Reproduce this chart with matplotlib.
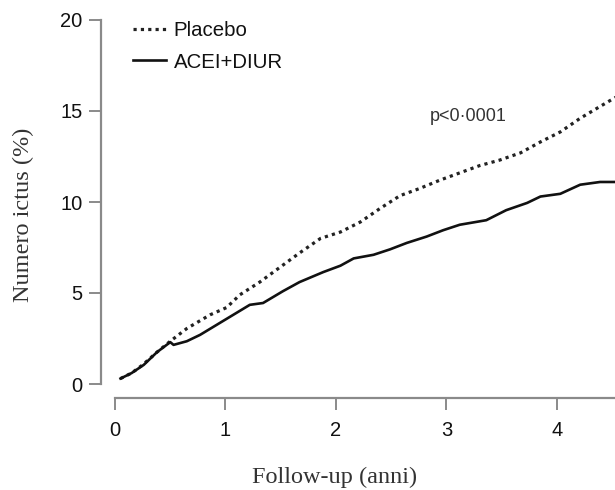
import matplotlib
matplotlib.use("Agg")
import matplotlib.pyplot as plt

# Cumulative stroke incidence (%) over follow-up (years)
placebo_t = [0.05, 0.15, 0.25, 0.38, 0.50, 0.65, 0.86, 1.01, 1.13, 1.31, 1.49,
             1.67, 1.86, 2.04, 2.22, 2.40, 2.58, 2.76, 2.94, 3.12, 3.30, 3.48,
             3.67, 3.85, 4.03, 4.21, 4.39, 4.53]
placebo_v = [0.3, 0.6, 1.05, 1.75, 2.35, 3.05, 3.8, 4.2, 4.9, 5.6, 6.4,
             7.2, 8.0, 8.35, 8.9, 9.65, 10.35, 10.75, 11.2, 11.6, 12.0, 12.3,
             12.7, 13.3, 13.85, 14.6, 15.25, 15.75]

active_t = [0.05, 0.15, 0.26, 0.38, 0.50, 0.53, 0.65, 0.77, 0.92, 1.07, 1.22,
            1.34, 1.52, 1.67, 1.885, 2.04, 2.16, 2.34, 2.49, 2.64, 2.82, 2.97,
            3.12, 3.36, 3.54, 3.73, 3.85, 4.03, 4.21, 4.39, 4.53]
active_v = [0.3, 0.6, 1.05, 1.75, 2.3, 2.15, 2.35, 2.7, 3.25, 3.8, 4.35,
            4.45, 5.1, 5.6, 6.15, 6.5, 6.9, 7.1, 7.4, 7.75, 8.1, 8.45,
            8.75, 9.0, 9.55, 9.95, 10.3, 10.45, 10.95, 11.1, 11.1]

series_labels = ["Placebo", "ACEI+DIUR"]
x_ticks = [0, 1, 2, 3, 4]
y_ticks = [0, 5, 10, 15, 20]
p_text = "p<0\u00b70001"

W, H = 615, 490
fig = plt.figure(figsize=(W / 100, H / 100), dpi=100)
ax = fig.add_axes([115 / W, 106 / H, 500 / W, 364 / H])

sans = ["Liberation Sans", "DejaVu Sans"]
serif = ["Liberation Serif", "DejaVu Serif"]

ax.plot(placebo_t, placebo_v, color="#222222", lw=2.3,
        linestyle=(0, (1, 1.3)), label=series_labels[0])
ax.plot(active_t, active_v, color="#111111", lw=1.9,
        solid_joinstyle="round", label=series_labels[1])

ax.set_xlim(0, 4.525)
ax.set_ylim(0, 20)
ax.set_xticks(x_ticks)
ax.set_yticks(y_ticks)

spine_col = "#8a8a8a"
for side in ("top", "right"):
    ax.spines[side].set_visible(False)
for side in ("left", "bottom"):
    ax.spines[side].set_position(("outward", 10))
    ax.spines[side].set_color(spine_col)
    ax.spines[side].set_linewidth(1.6)
ax.spines["left"].set_bounds(0, 20)
ax.spines["bottom"].set_bounds(0, 4.525)

ax.tick_params(axis="both", direction="out", length=8.5, width=1.4,
               color=spine_col, labelcolor="#111111", labelsize=14.5)
ax.tick_params(axis="y", pad=5)
ax.tick_params(axis="x", pad=8)
for lab in ax.get_xticklabels() + ax.get_yticklabels():
    lab.set_family(sans)

ax.text(3.20, 14.7, p_text, ha="center", va="center", fontsize=13,
        color="#333333", family=sans)

leg = ax.legend(loc="upper left", bbox_to_anchor=(0.036, 0.998), frameon=False,
                prop={"family": sans, "size": 14.7}, handlelength=1.6,
                handletextpad=0.4, labelspacing=0.63, borderpad=0,
                borderaxespad=0)
for t in leg.get_texts():
    t.set_color("#111111")

fig.text(23 / W, 1 - 215 / H, "Numero ictus (%)", rotation=90, ha="center",
         va="center", fontsize=17.5, family=serif, color="#333333")
fig.text(335 / W, 1 - 477 / H, "Follow-up (anni)", ha="center", va="center",
         fontsize=17.5, family=serif, color="#333333")

fig.savefig("out.png", dpi=100, facecolor="white")
